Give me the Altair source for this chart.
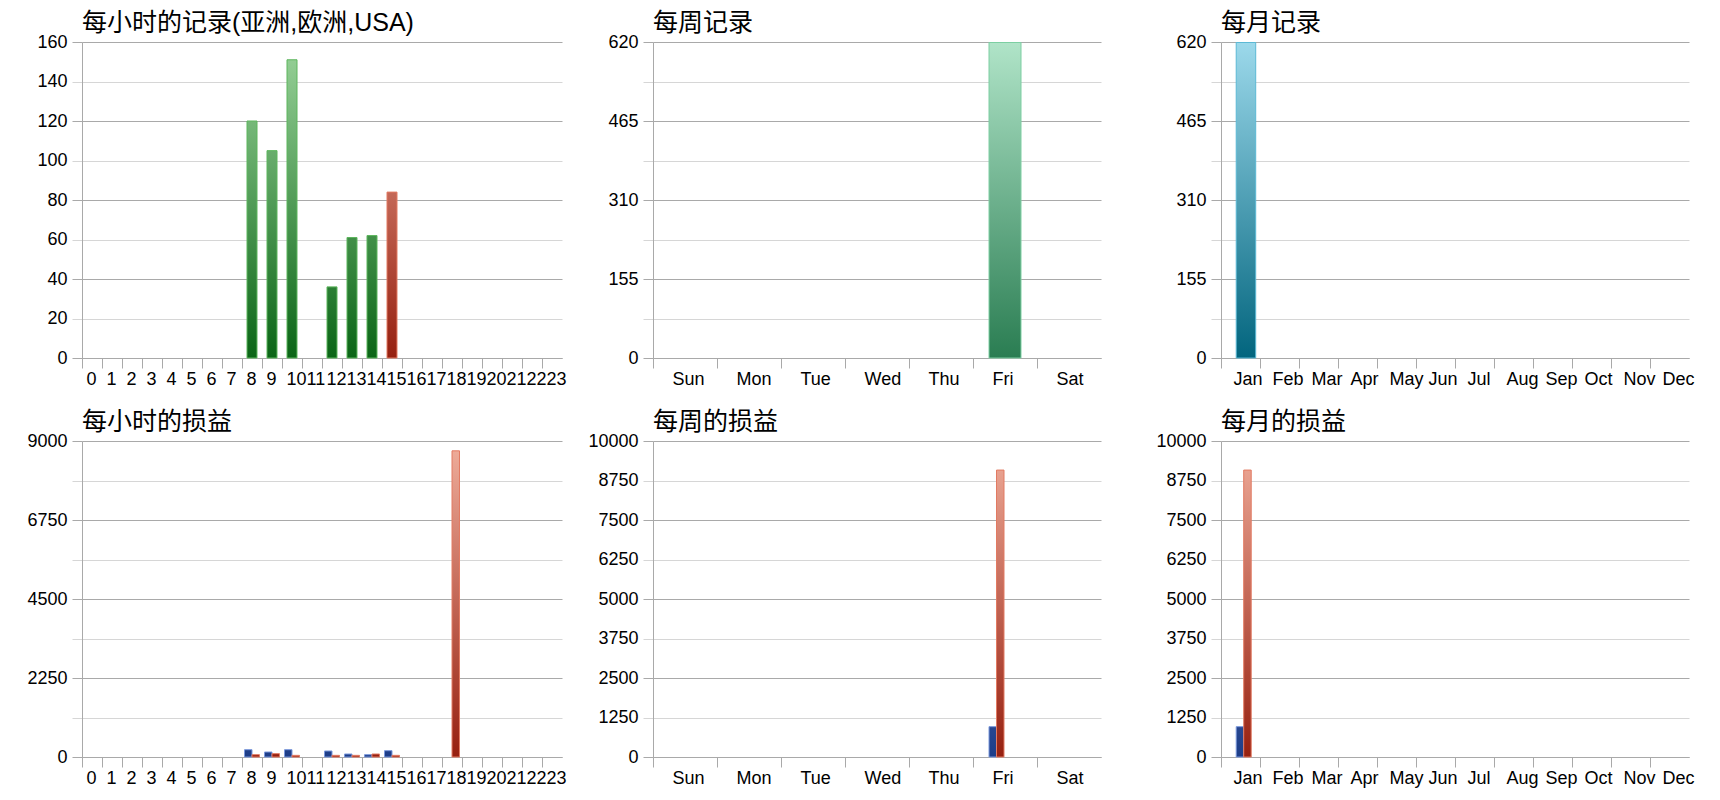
import altair as alt
import pandas as pd

# ---------------- data ----------------
HOURS = ["0", "1", "2", "3", "4", "5", "6", "7", "8", "9", "10", "11",
         "12", "13", "14", "15", "16", "17", "18", "19", "20", "21", "22", "23"]
WEEKDAYS = ["Sun", "Mon", "Tue", "Wed", "Thu", "Fri", "Sat"]
MONTHS = ["Jan", "Feb", "Mar", "Apr", "May", "Jun", "Jul", "Aug", "Sep", "Oct", "Nov", "Dec"]

hourly_records = [0, 0, 0, 0, 0, 0, 0, 0, 120, 105, 151, 0,
                  36, 61, 62, 84, 0, 0, 0, 0, 0, 0, 0, 0]
hourly_region = ["", "", "", "", "", "", "", "", "亚洲/欧洲", "亚洲/欧洲", "亚洲/欧洲", "",
                 "亚洲/欧洲", "亚洲/欧洲", "亚洲/欧洲", "USA", "", "", "", "", "", "", "", ""]
weekly_records = [0, 0, 0, 0, 0, 619, 0]
monthly_records = [619, 0, 0, 0, 0, 0, 0, 0, 0, 0, 0, 0]

hourly_profit = [0, 0, 0, 0, 0, 0, 0, 0, 208, 142, 208, 0,
                 171, 85, 66, 180, 0, 0, 0, 0, 0, 0, 0, 0]
hourly_loss = [0, 0, 0, 0, 0, 0, 0, 0, 66, 95, 47, 0,
               47, 47, 85, 47, 0, 0, 8720, 0, 0, 0, 0, 0]
weekly_profit = [0, 0, 0, 0, 0, 960, 0]
weekly_loss = [0, 0, 0, 0, 0, 9080, 0]
monthly_profit = [960, 0, 0, 0, 0, 0, 0, 0, 0, 0, 0, 0]
monthly_loss = [9080, 0, 0, 0, 0, 0, 0, 0, 0, 0, 0, 0]

# ---------------- style ----------------
FONT = "Liberation Sans, Noto Sans CJK SC"
LABEL_FONT = "Liberation Sans"
GRID_DARK = "#a9a9a9"
GRID_LIGHT = "#d6d6d6"
H = 316

# (dark bottom, light top at axis max, stroke)
PAL = {
    "亚洲/欧洲": ("#0b6516", "#9ad39a", "#5db65d"),
    "USA": ("#962010", "#eeaa98", "#e27a62"),
    "week": ("#2a7d52", "#b0e4c8", "#7ccfa2"),
    "month": ("#02657e", "#9cd9eb", "#5bb9d5"),
    "profit": ("#1d3d88", "#90a8e0", "#7a98dc"),
    "loss": ("#962010", "#f0ae9c", "#e27a62"),
}


def lerp(c1, c2, t):
    a = [int(c1[i:i + 2], 16) for i in (1, 3, 5)]
    b = [int(c2[i:i + 2], 16) for i in (1, 3, 5)]
    return "#" + "".join(f"{round(x + (y - x) * t):02x}" for x, y in zip(a, b))


def panel(title, cats, df, ymax, nsteps, all_labels, width, pad, label_dx, extent,
          grouped=False, align=0.5):
    ystep = ymax / nsteps
    tick_vals = [ystep * i for i in range(nsteps + 1)]
    major = [v for i, v in enumerate(tick_vals) if i % 2 == 0]
    labeled = tick_vals if all_labels else major
    cond_color = {"condition": {"test": f"indexof({major}, datum.value) >= 0", "value": GRID_DARK},
                  "value": GRID_LIGHT}
    yaxis = alt.Axis(values=tick_vals, grid=True, gridColor=cond_color, tickColor=cond_color,
                     tickSize=10, domainColor=GRID_DARK, format="d",
                     labelExpr=f"indexof({labeled}, datum.value) >= 0 ? datum.label : ''",
                     labelFont=LABEL_FONT, labelFontSize=18, labelColor="black",
                     labelPadding=5, minExtent=extent, maxExtent=extent, title=None)
    n = len(cats)
    step = width / n
    first_start = (width - step * (n - pad)) * align
    tick_off = -(first_start + step * (1 - pad) / 2)
    xaxis = alt.Axis(labelAngle=0, labelAlign="left", labelOffset=label_dx, tickOffset=tick_off,
                     tickSize=10, tickColor=GRID_DARK, domainColor=GRID_DARK, grid=False,
                     labelPadding=2, labelFont=LABEL_FONT, labelFontSize=18,
                     labelColor="black", labelOverlap=False, title=None)
    series_names = list(dict.fromkeys(df["series"]))
    layers = []
    for _, r in df[df["value"] > 0].iterrows():
        dark, light, stroke = PAL[r["series"]]
        top = lerp(dark, light, r["value"] / ymax)
        grad = alt.LinearGradient(gradient="linear", x1=0, y1=0, x2=0, y2=1,
                                  stops=[alt.GradientStop(color=top, offset=0),
                                         alt.GradientStop(color=dark, offset=1)])
        enc = dict(
            x=alt.X("cat:N", sort=cats,
                    scale=alt.Scale(domain=cats, paddingInner=pad, paddingOuter=pad / 2,
                                    align=align),
                    axis=xaxis),
            y=alt.Y("value:Q", scale=alt.Scale(domain=[0, ymax], nice=False), axis=yaxis),
        )
        if grouped:
            enc["xOffset"] = alt.XOffset("series:N", sort=series_names,
                                         scale=alt.Scale(domain=series_names))
        layers.append(
            alt.Chart(df)
            .transform_filter(f"datum.cat === '{r['cat']}' && datum.series === '{r['series']}'")
            .mark_bar(fill=grad, stroke=stroke, strokeWidth=1)
            .encode(**enc)
        )
    return alt.layer(*layers).properties(
        width=width, height=H,
        title=alt.TitleParams(text=title, anchor="start", frame="group", font=FONT,
                              fontSize=25, fontWeight="normal", color="black",
                              baseline="alphabetic", offset=-23),
    )


df_hr = pd.DataFrame({"cat": HOURS, "series": [s if s else "亚洲/欧洲" for s in hourly_region],
                      "value": hourly_records})
df_wr = pd.DataFrame({"cat": WEEKDAYS, "series": ["week"] * 7, "value": weekly_records})
df_mr = pd.DataFrame({"cat": MONTHS, "series": ["month"] * 12, "value": monthly_records})


def pnl_df(cats, profit, loss):
    return pd.DataFrame({
        "cat": cats + cats,
        "series": ["profit"] * len(cats) + ["loss"] * len(cats),
        "value": profit + loss,
    })


df_hp = pnl_df(HOURS, hourly_profit, hourly_loss)
df_wp = pnl_df(WEEKDAYS, weekly_profit, weekly_loss)
df_mp = pnl_df(MONTHS, monthly_profit, monthly_loss)

W1, W2, W3 = 480, 448, 468
E1, E2, E3 = 74, 76, 110

p_hr = panel("每小时的记录(亚洲,欧洲,USA)", HOURS, df_hr, 160, 8, True, W1, 0.5, 4, E1)
p_wr = panel("每周记录", WEEKDAYS, df_wr, 620, 8, False, W2, 0.5, 19, E2)
p_mr = panel("每月记录", MONTHS, df_mr, 620, 8, False, W3, 0.5, 12, E3, align=0.78)
p_hp = panel("每小时的损益", HOURS, df_hp, 9000, 8, False, W1, 0.25, 4, E1, grouped=True)
p_wp = panel("每周的损益", WEEKDAYS, df_wp, 10000, 8, True, W2, 0.5, 19, E2, grouped=True)
p_mp = panel("每月的损益", MONTHS, df_mp, 10000, 8, True, W3, 0.5, 12, E3, grouped=True,
             align=0.78)

chart = (
    alt.concat(p_hr, p_wr, p_mr, p_hp, p_wp, p_mp, columns=3,
               spacing={"row": 22, "column": 10})
    .properties(padding={"left": 0, "top": 3, "right": 5, "bottom": 5}, background="white")
    .configure_view(stroke=None)
    .resolve_scale(x="independent", y="independent")
)

chart.save("out.html", embed_options={"renderer": "svg", "actions": False})
